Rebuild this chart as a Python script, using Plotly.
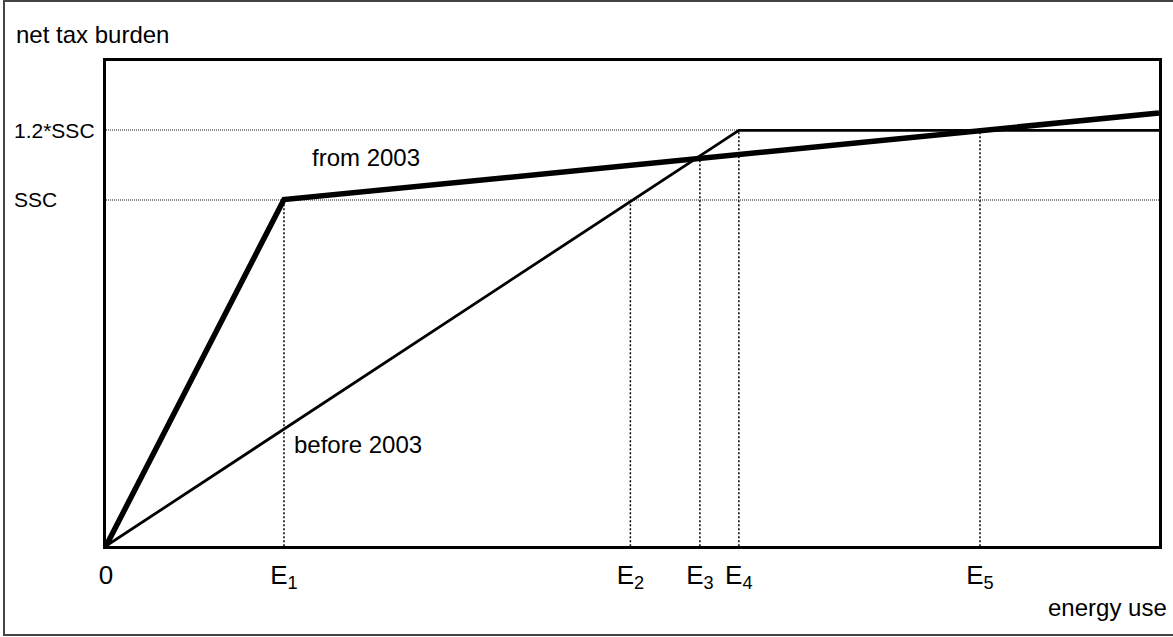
import plotly.graph_objects as go

# --- data (energy use in arbitrary units, burden in units of SSC) ---
x_before = [0, 60.1, 100]
y_before = [0, 1.2, 1.2]
x_from = [0, 16.9, 100]
y_from = [0, 1.0, 1.25]

e_labels = ["E<sub>1</sub>", "E<sub>2</sub>", "E<sub>3</sub>", "E<sub>4</sub>", "E<sub>5</sub>"]
e_pos = [16.9, 49.8, 56.4, 60.1, 83.0]
e_top = [1.0, 1.0, 1.12, 1.2, 1.2]

y_levels = [1.0, 1.2]
y_level_labels = ["SSC", "1.2*SSC"]

W, H = 1173, 637
L, R, T, B = 106, 14, 61, 91
pw, ph = W - L - R, H - T - B

def px_x(p):
    return (p - L) / pw

def px_y(p):
    return (H - B - p) / ph

FONT = "Liberation Sans, Arial, sans-serif"

fig = go.Figure()

# vertical dotted guide lines
for xp, yt in zip(e_pos, e_top):
    fig.add_trace(go.Scatter(x=[xp, xp], y=[-0.012, yt], mode="lines",
                             line=dict(color="black", width=1.5, dash="2px,2px"),
                             hoverinfo="skip", showlegend=False, cliponaxis=False))

fig.add_trace(go.Scatter(x=x_before, y=y_before, mode="lines",
                         line=dict(color="black", width=2.8),
                         name="before 2003", showlegend=False))
fig.add_trace(go.Scatter(x=x_from, y=y_from, mode="lines",
                         line=dict(color="black", width=5.5),
                         name="from 2003", showlegend=False))

annotations = [
    dict(text="net tax burden", xref="paper", yref="paper", x=px_x(14), y=px_y(35),
         xanchor="left", yanchor="middle", showarrow=False, font=dict(size=24, family=FONT)),
    dict(text="energy use", xref="paper", yref="paper", x=px_x(1169), y=px_y(607),
         xanchor="right", yanchor="middle", showarrow=False, font=dict(size=24, family=FONT)),
    dict(text="from 2003", xref="x", yref="y", x=19.4, y=1.121,
         xanchor="left", yanchor="middle", showarrow=False, font=dict(size=24, family=FONT)),
    dict(text="before 2003", xref="x", yref="y", x=17.66, y=0.294,
         xanchor="left", yanchor="middle", showarrow=False, font=dict(size=24, family=FONT)),
]
for yv, lab in zip(y_levels, y_level_labels):
    annotations.append(dict(text=lab, xref="paper", yref="y", x=px_x(12), y=yv,
                            xanchor="left", yanchor="middle", showarrow=False,
                            font=dict(size=21, family=FONT)))

fig.update_layout(
    width=W, height=H,
    margin=dict(l=L, r=R, t=T, b=B),
    paper_bgcolor="white", plot_bgcolor="white",
    font=dict(family=FONT, color="black", size=24),
    annotations=annotations,
    shapes=[dict(type="rect", xref="paper", yref="paper",
                 x0=px_x(4), x1=px_x(1190), y0=px_y(635), y1=px_y(1),
                 line=dict(color="#444", width=2), layer="above")],
)
fig.update_xaxes(range=[0, 100], tickvals=[0] + e_pos, ticktext=["0"] + e_labels,
                 showgrid=False, zeroline=False, showline=True, linecolor="black",
                 linewidth=2.5, mirror=True, ticks="", ticklabelstandoff=4,
                 tickfont=dict(size=26, family=FONT))
fig.update_yaxes(range=[0, 1.4], tickvals=y_levels, showticklabels=False,
                 showgrid=True, gridcolor="#8a8a8a", gridwidth=1.5, griddash="1px,1px",
                 zeroline=False, showline=True, linecolor="black", linewidth=2.5,
                 mirror=True, ticks="")

fig.write_html("out.html", config={"displayModeBar": False},
               post_script="document.body.style.margin='0';document.body.style.overflow='hidden';")
